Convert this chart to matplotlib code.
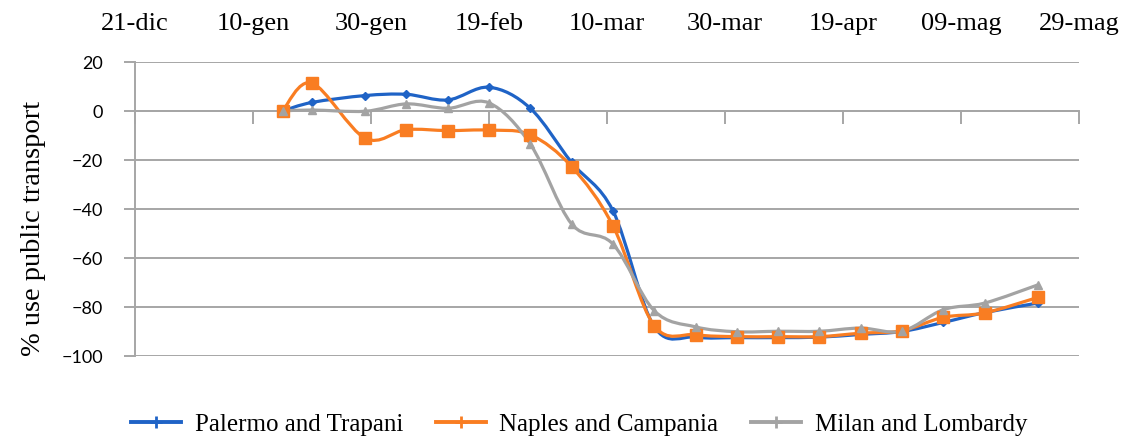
import matplotlib
matplotlib.use("Agg")
import matplotlib.pyplot as plt
import numpy as np
from matplotlib.path import Path
from matplotlib.patches import PathPatch
from matplotlib.lines import Line2D

# ---- data ----
days = [25, 30, 39, 46, 53, 60, 67, 74, 81, 88, 95, 102, 109, 116, 123, 130, 137, 144, 153]
palermo = [0, 3.5, 6.3, 6.8, 4.5, 9.7, 1.1, -21.0, -40.7, -88.0, -92.3, -92.5, -92.5, -92.3, -91.2, -90.0, -86.3, -82.3, -78.4]
naples = [0, 11.4, -11.1, -7.6, -8.0, -7.8, -9.7, -22.7, -46.8, -87.6, -91.3, -92.1, -92.1, -92.1, -90.7, -89.7, -84.2, -82.4, -76.1]
milan = [0, 0.4, -0.1, 2.9, 1.1, 3.3, -13.5, -46.1, -54.3, -81.5, -88.1, -90.1, -89.9, -89.9, -88.6, -89.9, -81.1, -78.4, -71.0]
series_names = ["Palermo and Trapani", "Naples and Campania", "Milan and Lombardy"]
tick_days = [0, 20, 40, 60, 80, 100, 120, 140, 160]
tick_labels = ["21-dic", "10-gen", "30-gen", "19-feb", "10-mar", "30-mar", "19-apr", "09-mag", "29-mag"]
y_ticks = [20, 0, -20, -40, -60, -80, -100]

colors = ["#1f63c6", "#f97d22", "#a3a3a3"]
markers = ["D", "s", "^"]
msizes = [4, 8, 6]

W, H = 1128, 439
fig = plt.figure(figsize=(W / 100, H / 100), dpi=100)
fig.patch.set_facecolor("white")
ax = fig.add_axes([135 / W, 1 - 357 / H, (1079 - 135) / W, (357 - 63) / H])

grid_c = "#a6a6a6"
serif = "Liberation Serif"
ax.set_xlim(tick_days[0], tick_days[-1])
ax.set_ylim(-100, 20)
ax.set_yticks(y_ticks)
ax.set_yticklabels([str(v).replace("-", "\u2212") for v in y_ticks],
                   fontfamily="Lato", fontsize=13)
ax.yaxis.grid(True, color=grid_c, linewidth=1.4)
ax.set_axisbelow(True)
ax.tick_params(axis="y", length=8, width=1.4, color=grid_c, pad=15, labelcolor="black")
ax.set_xticks(tick_days)
ax.set_xticklabels([])
ax.tick_params(axis="x", length=9, width=1.4, color=grid_c, direction="out")
for s in ["top", "right"]:
    ax.spines[s].set_visible(False)
ax.spines["bottom"].set_position(("data", 0))
ax.spines["bottom"].set_color(grid_c)
ax.spines["bottom"].set_linewidth(1.4)
ax.spines["left"].set_color(grid_c)
ax.spines["left"].set_linewidth(1.4)

sec = ax.secondary_xaxis("top")
sec.set_xticks(tick_days)
sec.set_xticklabels(tick_labels, fontfamily=serif, fontsize=19)
sec.tick_params(length=0, pad=20)
sec.spines["top"].set_visible(False)


def smooth_path(xs, ys):
    pts = np.column_stack([xs, ys]).astype(float)
    n = len(pts)
    verts = [pts[0]]
    codes = [Path.MOVETO]
    for i in range(n - 1):
        p0 = pts[i - 1] if i > 0 else pts[i]
        p1 = pts[i]
        p2 = pts[i + 1]
        p3 = pts[i + 2] if i + 2 < n else pts[i + 1]
        c1 = p1 + (p2 - p0) / 6.0
        c2 = p2 - (p3 - p1) / 6.0
        verts += [c1, c2, p2]
        codes += [Path.CURVE4] * 3
    return Path(verts, codes)


handles = []
for ys, c, m, ms, name in zip([palermo, naples, milan], colors, markers, msizes, series_names):
    patch = PathPatch(smooth_path(days, ys), facecolor="none", edgecolor=c, linewidth=2.3, zorder=3)
    ax.add_patch(patch)
    ax.plot(days, ys, linestyle="none", marker=m, markersize=ms, color=c, zorder=4)
    handles.append(Line2D([0], [0], color=c, linewidth=2.8, marker="+", markersize=8,
                          markeredgewidth=2, label=name))

fig.text(34 / W, 1 - 228 / H, "% use public transport", rotation=90, ha="center", va="center",
         fontfamily=serif, fontsize=20.5)

fig.legend(handles=handles, loc="center", bbox_to_anchor=(579 / W, 1 - 425 / H), ncol=3,
           frameon=False, prop={"family": serif, "size": 18},
           handlelength=2.0, columnspacing=1.3, handletextpad=0.55,
           borderpad=0.1)

fig.savefig("out.png", dpi=100, facecolor="white")
